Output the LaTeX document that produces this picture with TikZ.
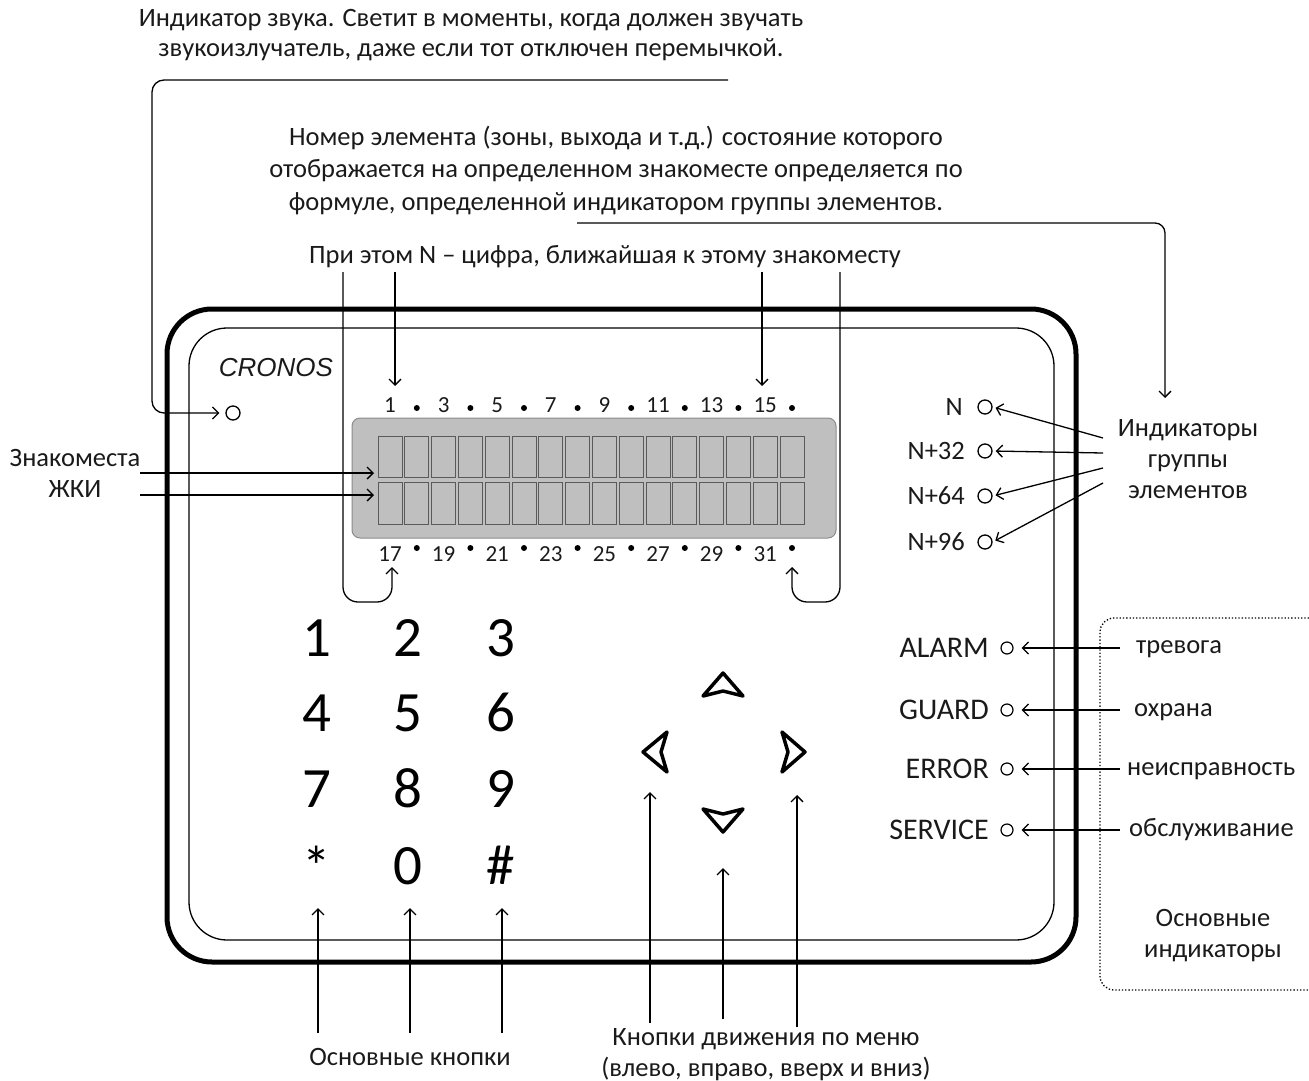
\documentclass[tikz,border=0pt]{standalone}
\usepackage{fontspec}
\setmainfont{Carlito}
\newfontfamily\cronosfont{Liberation Sans}
\usetikzlibrary{arrows.meta}
\definecolor{txt}{HTML}{1A1A1A}
\definecolor{lcdfill}{HTML}{BFBFBF}
\definecolor{lcdline}{HTML}{8C8C8C}
\definecolor{cellline}{HTML}{5A5A5A}
\begin{document}
\begin{tikzpicture}[x=1pt,y=-1pt,
  lbl/.style={font=\fontsize{26.5}{31}\selectfont, inner sep=0pt, text=txt, align=center},
  numlbl/.style={font=\fontsize{23}{26}\selectfont, inner sep=0pt, text=txt, anchor=base},
  statlbl/.style={font=\fontsize{30}{32}\selectfont, inner sep=0pt, text=txt, anchor=east},
  keylbl/.style={font=\fontsize{57}{60}\selectfont, inner sep=0pt, text=black, anchor=base},
  conn/.style={line width=1.3pt, -{Straight Barb[length=6pt,width=12pt,line width=1.3pt]}},
  plainline/.style={line width=1.3pt},
  ind/.style={circle, draw, line width=1.3pt, minimum size=14pt, inner sep=0pt},
  sind/.style={circle, draw, line width=1.2pt, minimum size=12pt, inner sep=0pt},
  cell/.style={draw=cellline, line width=1pt},
  dotmark/.style={circle, fill=black, inner sep=0pt, minimum size=6pt},
  navkey/.style={line width=3.5pt, line join=round, line cap=round}]
\useasboundingbox (0,0) rectangle (1309,1081);

% frames
\draw[line width=5pt, rounded corners=45pt] (167,309) rectangle (1076,962);
\draw[line width=1.3pt, rounded corners=38pt] (189,328) rectangle (1054,940);

% LCD
\draw[fill=lcdfill, draw=lcdline, line width=1pt, rounded corners=8pt] (352,418) rectangle (836,538);
\foreach \i in {0,...,15} {
  \pgfmathsetmacro\xa{378+\i*26.8}
  \draw[cell] (\xa,436) rectangle ++(24,41);
  \draw[cell] (\xa,482) rectangle ++(24,42);
}
\foreach \n [count=\k from 0] in {1,3,5,7,9,11,13,15} {
  \pgfmathsetmacro\cx{390+\k*53.6}
  \pgfmathsetmacro\dx{390+\k*53.6+26.8}
  \node[numlbl] (t\n) at (\cx,412) {\n};
  \node[dotmark] (td\n) at (\dx,408) {};
}
\foreach \n [count=\k from 0] in {17,19,21,23,25,27,29,31} {
  \pgfmathsetmacro\cx{390+\k*53.6}
  \pgfmathsetmacro\dx{390+\k*53.6+26.8}
  \node[numlbl] (b\n) at (\cx,561) {\n};
  \node[dotmark] (bd\n) at (\dx,548) {};
}

% brand and sound indicator
\node[font=\cronosfont\itshape\fontsize{26}{28}\selectfont, text=txt, inner sep=0pt] (brand) at (276,368) {CRONOS};
\node[ind] (snd) at (233,413) {};

% top texts
\node[lbl, font=\fontsize{26.5}{30}\selectfont] (p1) at (471,35) {Индикатор звука. Светит в моменты, когда должен звучать\\звукоизлучатель, даже если тот отключен перемычкой.};
\node[lbl, font=\fontsize{26.5}{32.5}\selectfont] (p2) at (616,170) {Номер элемента (зоны, выхода и т.д.) состояние которого\\отображается на определенном знакоместе определяется по\\формуле, определенной индикатором группы элементов.};
\node[lbl] (p3) at (605,257) {При этом N – цифра, ближайшая к этому знакоместу};

% connector from sound text
\coordinate (c1) at (728,80);
\draw[conn, rounded corners=12pt, shorten >=6pt] (c1) -- (152,80) -- (152,413) -- (snd.west);

% connector from group text
\coordinate (c2) at (577,223);
\coordinate (c2e) at (1165,398);
\draw[conn, rounded corners=10pt] (c2) -- (1165,223) -- (c2e);

% "При этом" connectors
\coordinate (pa) at (343,272);
\coordinate (pb) at (395,272);
\coordinate (pc) at (762,272);
\coordinate (pd) at (840,272);
\draw[conn, rounded corners=15pt] (pa) -- (343,602) -- (392,602) -- (392,567);
\draw[conn] (pb) -- (395,386);
\draw[conn] (pc) -- (762,386);
\draw[conn, rounded corners=15pt] (pd) -- (840,602) -- (792,602) -- (792,567);

% LCD places label
\node[lbl] (zn) at (75,473) {Знакоместа\\ЖКИ};
\coordinate (z1) at (140,473);
\coordinate (z2) at (140,495);
\draw[conn] (z1) -- (374,473);
\draw[conn] (z2) -- (374,495);

% group indicators
\node[ind] (gN) at (985,407) {};
\node[ind] (g32) at (985,451) {};
\node[ind] (g64) at (985,496) {};
\node[ind] (g96) at (985,542) {};
\node[lbl, anchor=east] at (963,407) {N};
\node[lbl, anchor=east] at (965,451) {N+32};
\node[lbl, anchor=east] at (965,496) {N+64};
\node[lbl, anchor=east] at (965,542) {N+96};
\node[lbl] (gtxt) at (1188,459) {Индикаторы\\группы\\элементов};
\coordinate (ga) at (1103,438);
\coordinate (gb) at (1103,453);
\coordinate (gc) at (1103,468);
\coordinate (gd) at (1103,483);
\draw[conn, shorten >=3pt] (ga) -- (gN.east);
\draw[conn, shorten >=3pt] (gb) -- (g32.east);
\draw[conn, shorten >=3pt] (gc) -- (g64.east);
\draw[conn, shorten >=3pt] (gd) -- (g96.east);

% status indicators
\node[sind] (sA) at (1007,648) {};
\node[sind] (sG) at (1007,710) {};
\node[sind] (sE) at (1007,769) {};
\node[sind] (sS) at (1007,830) {};
\node[statlbl] at (989,648) {ALARM};
\node[statlbl] at (989,710) {GUARD};
\node[statlbl] at (989,769) {ERROR};
\node[statlbl] at (989,830) {SERVICE};
\node[lbl, anchor=base west] (rA) at (1136,653) {тревога};
\node[lbl, anchor=base west] (rG) at (1134,716) {охрана};
\node[lbl, anchor=base west] (rE) at (1127,775) {неисправность};
\node[lbl, anchor=base west] (rS) at (1129,836) {обслуживание};
\foreach \s in {A,G,E,S} {
  \draw[conn, shorten >=8pt] (1120,0 |- s\s) -- (s\s.east);
}
\draw[dotted, line width=1.3pt, rounded corners=14pt] (1309,618) -- (1100,618) -- (1100,990) -- (1309,990);
\node[lbl] (osn) at (1213,936) {Основные\\индикаторы};

% keypad
\node[keylbl] (k1) at (317,656) {1};
\node[keylbl] (k2) at (408,656) {2};
\node[keylbl] (k3) at (501,656) {3};
\node[keylbl] (k4) at (317,731) {4};
\node[keylbl] (k5) at (408,731) {5};
\node[keylbl] (k6) at (501,731) {6};
\node[keylbl] (k7) at (317,807) {7};
\node[keylbl] (k8) at (408,807) {8};
\node[keylbl] (k9) at (501,807) {9};
\node[keylbl, anchor=center] (kst) at (317,866) {*};
\node[keylbl] (k0) at (408,884) {0};
\node[keylbl] (khs) at (501,884) {\#};

% navigation keys
\draw[navkey] (723,673) -- (743,696) -- (723,691) -- (703,696) -- cycle;
\draw[navkey] (723,832) -- (743,809) -- (723,814) -- (703,809) -- cycle;
\draw[navkey] (643,752) -- (667,732) -- (661,752) -- (667,772) -- cycle;
\draw[navkey] (805,752) -- (782,732) -- (788,752) -- (782,772) -- cycle;

% bottom labels
\node[lbl] (bk) at (410,1057) {Основные кнопки};
\node[lbl] (bn) at (766,1055) {Кнопки движения по меню\\(влево, вправо, вверх и вниз)};
\draw[conn] (318,1033) -- (318,908);
\draw[conn] (410,1033) -- (410,908);
\draw[conn] (502,1033) -- (502,908);
\draw[conn] (650,1023) -- (650,792);
\draw[conn] (723,1019) -- (723,868);
\draw[conn] (797,1027) -- (797,795);
\end{tikzpicture}
\end{document}
